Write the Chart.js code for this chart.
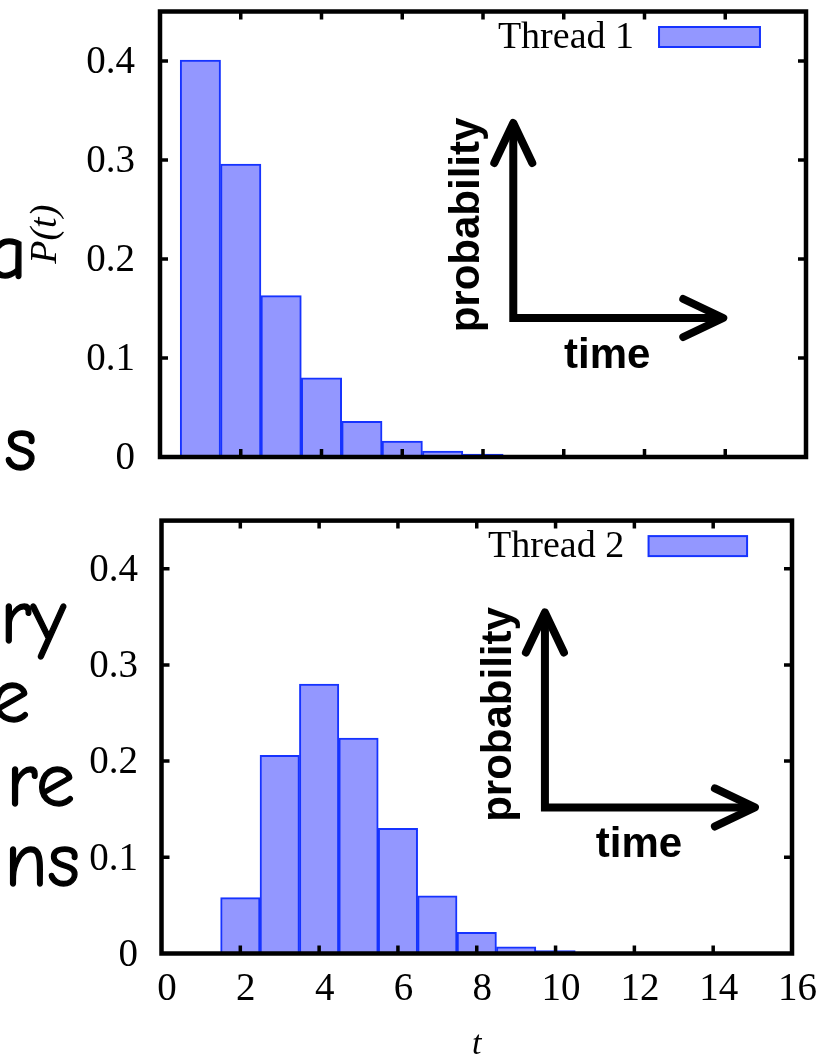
<!DOCTYPE html>
<html lang="en">
<head>
<meta charset="UTF-8">
<title>P(t) - Thread 1 / Thread 2</title>
<script src="https://cdn.jsdelivr.net/npm/chart.js"></script>
<style>
  html, body { margin: 0; padding: 0; background: #fff; }
  body { width: 827px; height: 1062px; position: relative; overflow: hidden; }
  .slide {
    position: absolute;
    font-family: "Comic Sans MS", "Comic Neue", "DejaVu Sans", sans-serif;
    font-size: 78px;
    line-height: 1;
    white-space: nowrap;
    color: #000;
    -webkit-text-stroke: 1.3px #000;
  }
  .panel { position: absolute; left: 0; }
</style>
</head>
<body>

<!-- bits of the slide text that the figure was cut from -->
<div class="slide" style="right:800px; top:214px;">a</div>
<div class="slide" style="right:790px; top:406px;">s</div>
<div class="slide" style="right:761px; top:579px;">ry</div>
<div class="slide" style="right:797px; top:658px;">e</div>
<div class="slide" style="right:752px; top:742px;">re</div>
<div class="slide" style="right:747px; top:822px;">ns</div>

<canvas id="top" class="panel" style="top:0" width="827" height="500"></canvas>
<canvas id="bottom" class="panel" style="top:500px" width="827" height="562"></canvas>

<script>
// histogram bins (bin centres) and probabilities
const bins1 = [1, 2, 3, 4, 5, 6, 7, 8];
const thread1 = [0.401, 0.296, 0.163, 0.080, 0.036, 0.016, 0.006, 0.003];

const bins2 = [2, 3, 4, 5, 6, 7, 8, 9, 10];
const thread2 = [0.058, 0.206, 0.280, 0.224, 0.130, 0.060, 0.022, 0.007, 0.003];

const xTicks = [0, 2, 4, 6, 8, 10, 12, 14, 16];
const yTicks = [0, 0.1, 0.2, 0.3, 0.4];

const FILL = '#9397ff';
const EDGE = '#1633ff';
const serif = '"Liberation Serif", "Times New Roman", serif';
const sans = '"Liberation Sans", Arial, sans-serif';

// gnuplot style frame, inward ticks, key and the little probability/time sketch
const gnuFrame = {
    id: 'gnuFrame',
    afterDatasetsDraw(chart, args, opts) {
        const { ctx, chartArea: a, scales: { x, y } } = chart;
        ctx.save();

        // key: label then sample box
        const ds = chart.data.datasets[0];
        const bx0 = x.getPixelForValue(12.36), bx1 = x.getPixelForValue(14.86);
        const by = a.top + 15.5;
        ctx.fillStyle = ds.backgroundColor;
        ctx.fillRect(bx0, by, bx1 - bx0, 20);
        ctx.strokeStyle = ds.borderColor;
        ctx.lineWidth = 2;
        ctx.strokeRect(bx0, by, bx1 - bx0, 20);
        ctx.fillStyle = '#000';
        ctx.font = '38px ' + serif;
        ctx.textAlign = 'right';
        ctx.textBaseline = 'middle';
        ctx.fillText(ds.label, x.getPixelForValue(11.74), by + 11);

        // sketch
        const cx = x.getPixelForValue(opts.corner[0]);
        const cy = y.getPixelForValue(opts.corner[1]);
        const up = 195, right = 210;
        ctx.strokeStyle = '#000';
        ctx.lineWidth = 8;
        ctx.lineCap = 'butt';
        ctx.lineJoin = 'miter';
        ctx.beginPath();
        ctx.moveTo(cx, cy - up);
        ctx.lineTo(cx, cy);
        ctx.lineTo(cx + right, cy);
        ctx.stroke();
        ctx.lineCap = 'round';
        ctx.lineJoin = 'round';
        ctx.beginPath();
        ctx.moveTo(cx - 19, cy - up + 40);
        ctx.lineTo(cx, cy - up);
        ctx.lineTo(cx + 19, cy - up + 40);
        ctx.stroke();
        ctx.beginPath();
        ctx.moveTo(cx + right - 40, cy - 19);
        ctx.lineTo(cx + right, cy);
        ctx.lineTo(cx + right - 40, cy + 19);
        ctx.stroke();

        ctx.font = 'bold 42px ' + sans;
        ctx.textAlign = 'center';
        ctx.textBaseline = 'middle';
        ctx.fillText('time', cx + 94, cy + 38);
        ctx.save();
        ctx.translate(cx - 46, cy - 93);
        ctx.rotate(-Math.PI / 2);
        ctx.fillText('probability', 0, 0);
        ctx.restore();

        // inward tick marks on all four sides
        ctx.lineCap = 'butt';
        ctx.lineWidth = 3.5;
        ctx.beginPath();
        xTicks.slice(1, -1).forEach(v => {
            const px = x.getPixelForValue(v);
            ctx.moveTo(px, a.bottom); ctx.lineTo(px, a.bottom - 8);
            ctx.moveTo(px, a.top); ctx.lineTo(px, a.top + 8);
        });
        yTicks.slice(1).forEach(v => {
            const py = y.getPixelForValue(v);
            ctx.moveTo(a.left, py); ctx.lineTo(a.left + 8, py);
            ctx.moveTo(a.right, py); ctx.lineTo(a.right - 8, py);
        });
        ctx.stroke();

        // frame
        ctx.lineWidth = 4.5;
        ctx.lineJoin = 'miter';
        ctx.strokeRect(a.left, a.top, a.right - a.left, a.bottom - a.top);
        ctx.restore();
    }
};

function makeChart(id, label, bins, values, cfg) {
    const yScale = {
        min: 0,
        max: 0.45,
        grid: { display: false, drawTicks: false },
        border: { display: false },
        ticks: {
            stepSize: 0.1,
            includeBounds: false,
            padding: cfg.yPad,
            labelOffset: 2,
            color: '#000',
            font: { family: serif, size: 39 },
            callback: v => v === 0 ? '0' : v.toFixed(1)
        },
        afterFit: s => {
            s.width = cfg.left;
            s.paddingTop = 0;
            s.paddingBottom = 0;
        }
    };
    if (cfg.yTitle) {
        yScale.title = {
            display: true,
            text: cfg.yTitle,
            color: '#000',
            font: { family: serif, size: 38, style: 'italic', lineHeight: 1 },
            padding: { top: 27, bottom: 0 }
        };
    }

    const xScale = {
        type: 'linear',
        min: 0,
        max: 16,
        offset: false,
        grid: { display: false, drawTicks: false, offset: false },
        border: { display: false },
        ticks: {
            display: cfg.xLabels,
            stepSize: 2,
            padding: 13,
            labelOffset: 5.5,
            maxRotation: 0,
            color: '#000',
            font: { family: serif, size: 39 }
        },
        afterFit: s => {
            s.height = cfg.xHeight;
            s.paddingLeft = 0;
            s.paddingRight = 0;
        }
    };
    if (cfg.xTitle) {
        xScale.title = {
            display: true,
            text: cfg.xTitle,
            color: '#000',
            font: { family: serif, size: 34, style: 'italic', lineHeight: 1 },
            padding: { top: 0, bottom: 0 }
        };
    }

    return new Chart(document.getElementById(id), {
        type: 'bar',
        data: {
            datasets: [{
                label: label,
                data: bins.map((b, i) => ({ x: b, y: values[i] })),
                backgroundColor: FILL,
                borderColor: EDGE,
                borderWidth: 2,
                barPercentage: 1,
                categoryPercentage: 1
            }]
        },
        options: {
            responsive: false,
            animation: false,
            devicePixelRatio: 1,
            layout: { padding: cfg.padding },
            plugins: {
                legend: { display: false },
                tooltip: { enabled: false },
                gnuFrame: { corner: cfg.corner }
            },
            scales: { x: xScale, y: yScale }
        },
        plugins: [gnuFrame]
    });
}

makeChart('top', 'Thread 1', bins1, thread1, {
    left: 160,
    yPad: 25,
    yTitle: 'P(t)',
    xLabels: false,
    xHeight: 43,
    padding: { left: 0, right: 21, top: 11.5, bottom: 0 },
    corner: [8.75, 0.1404]
});

makeChart('bottom', 'Thread 2', bins2, thread2, {
    left: 161.5,
    yPad: 23.5,
    xLabels: true,
    xTitle: 't',
    xHeight: 108.5,
    padding: { left: 0, right: 35, top: 20.6, bottom: 0 },
    corner: [9.73, 0.1518]
});
</script>
</body>
</html>
